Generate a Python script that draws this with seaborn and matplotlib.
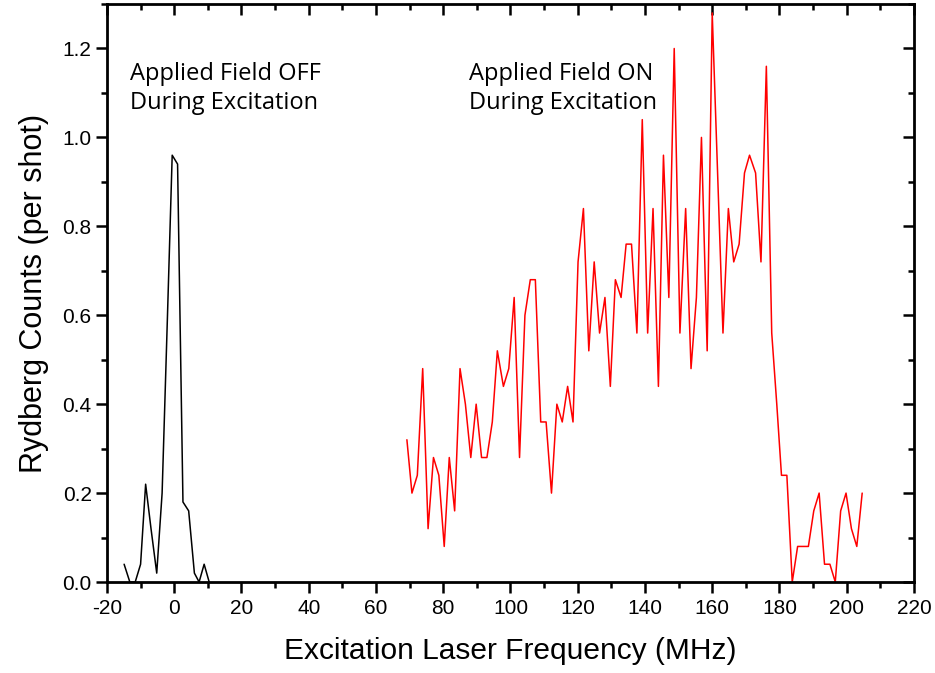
import matplotlib
matplotlib.use("Agg")
import matplotlib.pyplot as plt
import seaborn as sns
import pandas as pd
from matplotlib.ticker import MultipleLocator

# ---- data ----
off_freq = [-14.9, -13.2, -11.6, -10.0, -8.5, -6.9, -5.2, -3.6, -2.0, -0.6,
            1.0, 2.6, 4.3, 6.0, 7.4, 8.9, 10.4]
off_counts = [0.04, 0.00, 0.00, 0.04, 0.22, 0.12, 0.02, 0.20, 0.60, 0.96,
              0.94, 0.18, 0.16, 0.02, 0.00, 0.04, 0.00]

on_freq = [69.2, 70.7, 72.3, 73.9, 75.5, 77.1, 78.7, 80.3, 81.8, 83.4,
           85.0, 86.6, 88.2, 89.8, 91.4, 93.0, 94.6, 96.1, 97.9, 99.5,
           101.1, 102.7, 104.3, 105.9, 107.4, 109.0, 110.6, 112.2, 113.8, 115.4,
           117.0, 118.6, 120.1, 121.7, 123.3, 124.9, 126.5, 128.1, 129.7, 131.2,
           132.9, 134.4, 136.0, 137.6, 139.2, 140.8, 142.4, 144.0, 145.5, 147.1,
           148.7, 150.4, 152.1, 153.7, 155.3, 156.8, 158.5, 160.0, 161.6, 163.2,
           164.8, 166.4, 168.0, 169.6, 171.1, 172.9, 174.5, 176.1, 177.7, 179.2,
           180.6, 182.2, 183.8, 185.4, 187.0, 188.6, 190.2, 191.8, 193.4, 195.0,
           196.6, 198.2, 199.8, 201.4, 203.0, 204.6]
on_counts = [0.32, 0.20, 0.24, 0.48, 0.12, 0.28, 0.24, 0.08, 0.28, 0.16,
             0.48, 0.40, 0.28, 0.40, 0.28, 0.28, 0.36, 0.52, 0.44, 0.48,
             0.64, 0.28, 0.60, 0.68, 0.68, 0.36, 0.36, 0.20, 0.40, 0.36,
             0.44, 0.36, 0.72, 0.84, 0.52, 0.72, 0.56, 0.64, 0.44, 0.68,
             0.64, 0.76, 0.76, 0.56, 1.04, 0.56, 0.84, 0.44, 0.96, 0.64,
             1.20, 0.56, 0.84, 0.48, 0.64, 1.00, 0.52, 1.28, 0.92, 0.56,
             0.84, 0.72, 0.76, 0.92, 0.96, 0.92, 0.72, 1.16, 0.56, 0.40,
             0.24, 0.24, 0.00, 0.08, 0.08, 0.08, 0.16, 0.20, 0.04, 0.04,
             0.00, 0.16, 0.20, 0.12, 0.08, 0.20]

x_ticks = [-20, 0, 20, 40, 60, 80, 100, 120, 140, 160, 180, 200, 220]
y_ticks = [0.0, 0.2, 0.4, 0.6, 0.8, 1.0, 1.2]

label_off = "Applied Field OFF\nDuring Excitation"
label_on = "Applied Field ON\nDuring Excitation"
xlabel = "Excitation Laser Frequency (MHz)"
ylabel = "Rydberg Counts (per shot)"

# ---- plotting ----
sns.set_theme(style="ticks")
plt.rcParams['font.family'] = ['Liberation Sans', 'DejaVu Sans']
plt.rcParams['text.color'] = 'black'
plt.rcParams['axes.labelcolor'] = 'black'

fig = plt.figure(figsize=(9.35, 6.73), dpi=100)
ax = fig.add_axes([0.1144, 0.1352, 0.9775 - 0.1144, 0.994 - 0.1352])

df_off = pd.DataFrame({"freq": off_freq, "counts": off_counts})
df_on = pd.DataFrame({"freq": on_freq, "counts": on_counts})
sns.lineplot(data=df_off, x="freq", y="counts", color="black", lw=1.1,
             estimator=None, sort=False, ax=ax)
sns.lineplot(data=df_on, x="freq", y="counts", color="#ff0000", lw=1.1,
             estimator=None, sort=False, ax=ax)

ax.set_xlim(-20, 220)
ax.set_ylim(0, 1.3)
ax.set_xticks(x_ticks)
ax.set_xticklabels([str(t) for t in x_ticks])
ax.set_yticks(y_ticks)
ax.set_yticklabels([f"{t:.1f}" for t in y_ticks])
ax.xaxis.set_minor_locator(MultipleLocator(10))
ax.yaxis.set_minor_locator(MultipleLocator(0.1))

for s in ax.spines.values():
    s.set_linewidth(2.0)
    s.set_color("black")

ax.tick_params(which="both", top=True, right=True, width=1.8, color="black",
               labelsize=15, labelcolor="black")
ax.tick_params(which="major", length=8)
ax.tick_params(which="minor", length=4.5)
ax.tick_params(axis="x", which="both", direction="out", pad=4)
ax.tick_params(axis="y", which="both", direction="out", pad=3)
# top/right ticks inward
for t in ax.xaxis.get_major_ticks() + ax.xaxis.get_minor_ticks():
    t.tick2line.set_marker(matplotlib.lines.TICKDOWN)
for t in ax.yaxis.get_major_ticks() + ax.yaxis.get_minor_ticks():
    t.tick2line.set_marker(matplotlib.lines.TICKLEFT)

ax.set_xlabel(xlabel, fontsize=21.5, labelpad=14)
ax.set_ylabel(ylabel, fontsize=22, labelpad=10)

ann_font = ['Open Sans', 'DejaVu Sans']
ax.text(-13.2, 1.17, label_off, family=ann_font, fontsize=17, va="top",
        ha="left", linespacing=1.3, color="black")
ax.text(87.7, 1.17, label_on, family=ann_font, fontsize=17, va="top",
        ha="left", linespacing=1.3, color="black")

fig.savefig("out.png", dpi=100)
